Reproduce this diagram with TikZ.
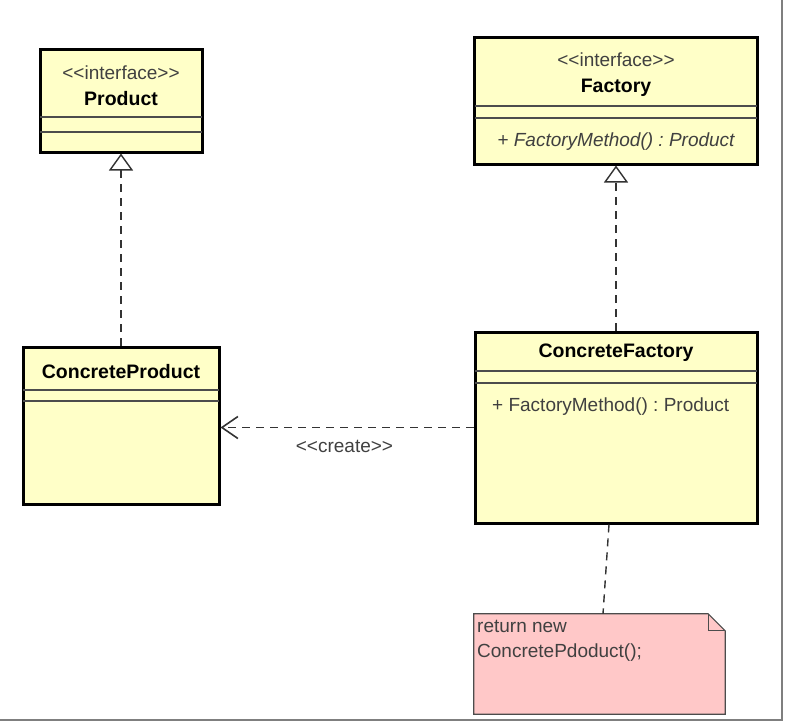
\documentclass[tikz,border=0pt]{standalone}
\usepackage{fontspec}
\setmainfont{Liberation Sans}
\usetikzlibrary{arrows.meta,calc,positioning}
\definecolor{ClassFill}{HTML}{FFFFC8}
\definecolor{NoteFill}{HTML}{FFC8C8}
\definecolor{SoftInk}{HTML}{404040}
\definecolor{FrameGray}{HTML}{7F7F7F}
\frenchspacing

\begin{document}
\begin{tikzpicture}[x=1pt,y=-1pt,
    font=\fontsize{19}{24}\selectfont,
    classbox/.style={draw=black,line width=3pt,fill=ClassFill,inner sep=0pt},
    sepline/.style={draw=black!70,line width=1.2pt},
    stereo/.style={text=SoftInk,inner sep=0pt},
    title/.style={font=\fontsize{19.5}{24}\selectfont\bfseries,inner sep=0pt},
    member/.style={text=SoftInk,inner sep=0pt},
    depline/.style={draw=black!80,line width=1.4pt,dash pattern=on 8pt off 6pt},
    realize/.style={depline,-{Triangle[open,fill=white,length=17pt,width=24pt,line width=1.4pt]}},
    creates/.style={depline,-{Straight Barb[length=16pt,width=22pt,line width=1.6pt]}}
  ]
  \useasboundingbox (0,0) rectangle (790,721);
  % frame
  \draw[FrameGray,line width=2pt] (0,720) -- (782,720) -- (782,0);

  % Product
  \node[classbox,minimum width=162pt,minimum height=103pt] (product) at (121,100.5) {};
  \node[stereo] (productStereo) at (121,73) {{<}{<}interface{>}{>}};
  \node[title] (productName) at (121,99) {Product};
  \draw[sepline] (40,117) -- (202,117) (40,132) -- (202,132);

  % Factory
  \node[classbox,minimum width=283pt,minimum height=127pt] (factory) at (616,100.5) {};
  \node[stereo] (factoryStereo) at (616,60) {{<}{<}interface{>}{>}};
  \node[title] (factoryName) at (616,88) {Factory};
  \draw[sepline] (475,106) -- (757,106) (475,118) -- (757,118);
  \node[member,font=\fontsize{19}{24}\selectfont\itshape] (factoryOp) at (616,142) {+ FactoryMethod() : Product};

  % ConcreteProduct
  \node[classbox,minimum width=196pt,minimum height=157pt] (cproduct) at (121,425.5) {};
  \node[title] (cproductName) at (121,372) {ConcreteProduct};
  \draw[sepline] (23,390) -- (219,390) (23,401) -- (219,401);

  % ConcreteFactory
  \node[classbox,minimum width=282pt,minimum height=191pt] (cfactory) at (616,427.5) {};
  \node[title] (cfactoryName) at (616,353) {ConcreteFactory};
  \draw[sepline] (475,371) -- (757,371) (475,383) -- (757,383);
  \node[member,anchor=west] (cfactoryOp) at (492,407) {+ FactoryMethod() : Product};

  % note
  \node[minimum width=251pt,minimum height=100pt,inner sep=0pt] (note) at (599.5,664) {};
  \draw[draw=black!70,line width=1.2pt,fill=NoteFill]
    (note.north west) -- ([xshift=-17pt]note.north east) -- ([yshift=-17pt]note.north east)
    -- (note.south east) -- (note.south west) -- cycle;
  \draw[draw=black!70,line width=1.2pt]
    ([xshift=-17pt]note.north east) |- ([yshift=-17pt]note.north east);
  \node[anchor=north west,align=left,text=SoftInk,inner sep=0pt,
        font=\fontsize{19}{25}\selectfont] (noteText) at (477,620)
    {return new\\ConcretePdoduct();};

  % connectors
  \draw[realize] (cproduct.north) -- (product.south);
  \draw[realize] (cfactory.north) -- (factory.south);
  \draw[creates] (cfactory.west) -- (cfactory.west -| cproduct.east)
    node[pos=0.51,below=12pt,text=SoftInk,inner sep=0pt] (createLabel) {{<}{<}create{>}{>}};
  \draw[depline] ([xshift=-7pt]cfactory.south) -- ([xshift=3.5pt]note.north);
\end{tikzpicture}
\end{document}
